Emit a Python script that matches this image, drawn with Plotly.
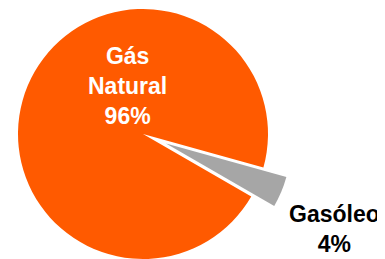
import plotly.graph_objects as go

labels = ["Gás Natural", "Gasóleo"]
label_lines = ["Gás<br>Natural", "Gasóleo"]
values = [96, 4]
colors = ["#FF5A00", "#A6A6A6"]

# page is offset by the default 8px body margin; figure coords = page coords - 8
OFF = 8
W, H = 385, 262
total = sum(values)
pcts = [f"{round(v / total * 100)}%" for v in values]

def dom(cx, cy, r):
    cx -= OFF
    cy -= OFF
    return dict(x=[(cx - r) / W, (cx + r) / W], y=[(H - cy - r) / H, (H - cy + r) / H])

def pos(px, py):
    return dict(x=(px - OFF) / W, y=1 - (py - OFF) / H)

R = 125
fig = go.Figure()
# main (orange) pie, Gasóleo slice left transparent
fig.add_trace(go.Pie(
    labels=labels, values=values, sort=False, direction="clockwise", rotation=120,
    marker=dict(colors=[colors[0], "rgba(0,0,0,0)"], line=dict(width=0)),
    textinfo="none", hoverinfo="label+percent", showlegend=False,
    domain=dom(143, 134, R),
))
# exploded Gasóleo slice
fig.add_trace(go.Pie(
    labels=labels, values=values, sort=False, direction="clockwise", rotation=120,
    marker=dict(colors=["rgba(0,0,0,0)", colors[1]], line=dict(width=0)),
    textinfo="none", hoverinfo="label+percent", showlegend=False,
    domain=dom(166, 143.5, R),
))

fig.add_annotation(**pos(127, 86), xref="paper", yref="paper", xanchor="center", yanchor="middle",
                   text=f"{label_lines[0]}<br>{pcts[0]}", showarrow=False,
                   font=dict(family="Liberation Sans, Arial", size=23, color="white", weight="bold"))
fig.add_annotation(**pos(334, 229), xref="paper", yref="paper", xanchor="center", yanchor="middle",
                   text=f"{label_lines[1]}<br>{pcts[1]}", showarrow=False,
                   font=dict(family="Liberation Sans, Arial", size=23, color="black", weight="bold"))

fig.update_layout(width=W, height=H, margin=dict(l=0, r=0, t=0, b=0),
                  paper_bgcolor="white", plot_bgcolor="white")
fig.write_html("out.html")
